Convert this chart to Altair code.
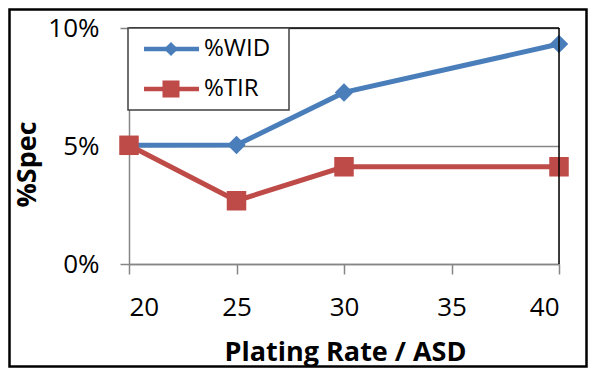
import altair as alt
import pandas as pd

# ---- data ----
plating_rate = [20, 25, 30, 40]
wid = [0.0503, 0.0504, 0.0727, 0.0932]
tir = [0.0503, 0.0268, 0.0412, 0.0412]
series_names = ["%WID", "%TIR"]
series_colors = ["#4A7EBB", "#BE4B48"]
series_shapes = ["diamond", "square"]
x_ticks = [20, 25, 30, 35, 40]
y_ticks = [0, 0.05, 0.10]

rows = []
for x, v in zip(plating_rate, wid):
    rows.append({"rate": x, "value": v, "series": "%WID"})
for x, v in zip(plating_rate, tir):
    rows.append({"rate": x, "value": v, "series": "%TIR"})
df = pd.DataFrame(rows)

W, H = 430, 236
PAD_L, PAD_T = 121, 20
SVG_W, SVG_H = 580, 360
FONT = "Open Sans"
GRAY = "#868686"

color_scale = alt.Scale(domain=series_names, range=series_colors)
shape_scale = alt.Scale(domain=series_names, range=series_shapes)
size_scale = alt.Scale(domain=series_names, range=[340, 380])

x_enc = alt.X(
    "rate:Q",
    scale=alt.Scale(domain=[20, 40], nice=False, zero=False),
    axis=alt.Axis(
        values=x_ticks, title="Plating Rate / ASD", grid=False,
        domainColor=GRAY, domainWidth=1.5, tickColor=GRAY, tickWidth=1.5, tickSize=10,
        labelFont=FONT, labelFontSize=26, labelColor="#000000",
        labelBaseline="alphabetic", labelPadding=41,
        titleFont=FONT, titleFontSize=27, titleFontWeight="bold", titleColor="#000000",
        titleX=216, titleY=96, titleBaseline="alphabetic", titleAlign="center",
    ),
)
y_enc = alt.Y(
    "value:Q",
    scale=alt.Scale(domain=[0, 0.10], nice=False),
    axis=alt.Axis(
        values=y_ticks, format=".0%", title="%Spec",
        grid=True, gridColor=GRAY, gridWidth=1.5,
        domainColor=GRAY, domainWidth=1.5, tickColor=GRAY, tickWidth=1.5, tickSize=9,
        labelFont=FONT, labelFontSize=26, labelColor="#000000", labelPadding=21,
        titleFont=FONT, titleFontSize=27, titleFontWeight="bold", titleColor="#000000",
        titleAngle=270, titleX=-102, titleY=136, titleBaseline="middle", titleAlign="center",
    ),
)

base = alt.Chart(df)

lines = base.mark_line(strokeWidth=5).encode(
    x=x_enc, y=y_enc,
    color=alt.Color("series:N", scale=color_scale, legend=None),
    detail="series:N",
)
points = base.mark_point(filled=True, opacity=1).encode(
    x="rate:Q", y="value:Q",
    color=alt.Color("series:N", scale=color_scale, legend=None),
    shape=alt.Shape("series:N", scale=shape_scale, legend=None),
    size=alt.Size("series:N", scale=size_scale, legend=None),
)

one = alt.Data(values=[{"a": 1}])

# plot-area frame (top and right edges in black)
top_edge = alt.Chart(one).mark_rule(color="#000000", strokeWidth=1.5).encode(
    x=alt.value(0), x2=alt.value(W), y=alt.value(0))
right_edge = alt.Chart(one).mark_rule(color="#000000", strokeWidth=1.5).encode(
    x=alt.value(W), y=alt.value(0), y2=alt.value(H))

# outer chart frame
outer = alt.Chart(one).mark_rect(fill=None, stroke="#000000", strokeWidth=2.5).encode(
    x=alt.value(-PAD_L + 1.5), x2=alt.value(SVG_W - PAD_L - 1.5),
    y=alt.value(-PAD_T + 1.5), y2=alt.value(SVG_H - PAD_T - 1.5))

# legend
legend_box = alt.Chart(one).mark_rect(fill="#FFFFFF", stroke="#404040", strokeWidth=1.5).encode(
    x=alt.value(-1), x2=alt.value(160), y=alt.value(0), y2=alt.value(82))
legend_layers = [legend_box]
legend_y = [21, 61]
legend_sizes = [200, 290]
for name, col, shp, ly, sz in zip(series_names, series_colors, series_shapes, legend_y, legend_sizes):
    d = alt.Data(values=[{"label": name}])
    legend_layers.append(alt.Chart(d).mark_rule(color=col, strokeWidth=4.5).encode(
        x=alt.value(15), x2=alt.value(70), y=alt.value(ly)))
    legend_layers.append(alt.Chart(d).mark_point(filled=True, opacity=1, color=col, shape=shp, size=sz).encode(
        x=alt.value(42), y=alt.value(ly)))
    legend_layers.append(alt.Chart(d).mark_text(
        align="left", baseline="middle", font=FONT, fontSize=24, color="#000000").encode(
        x=alt.value(75), y=alt.value(ly), text="label:N"))

chart = alt.layer(lines, points, top_edge, right_edge, *legend_layers, outer).properties(
    width=W, height=H,
    autosize=alt.AutoSizeParams(type="none"),
    padding={"left": PAD_L, "top": PAD_T, "right": SVG_W - PAD_L - W, "bottom": SVG_H - PAD_T - H},
).configure_view(stroke=None).configure(background="#FFFFFF")

chart.save("out.html", embed_options={"renderer": "svg", "actions": False})
